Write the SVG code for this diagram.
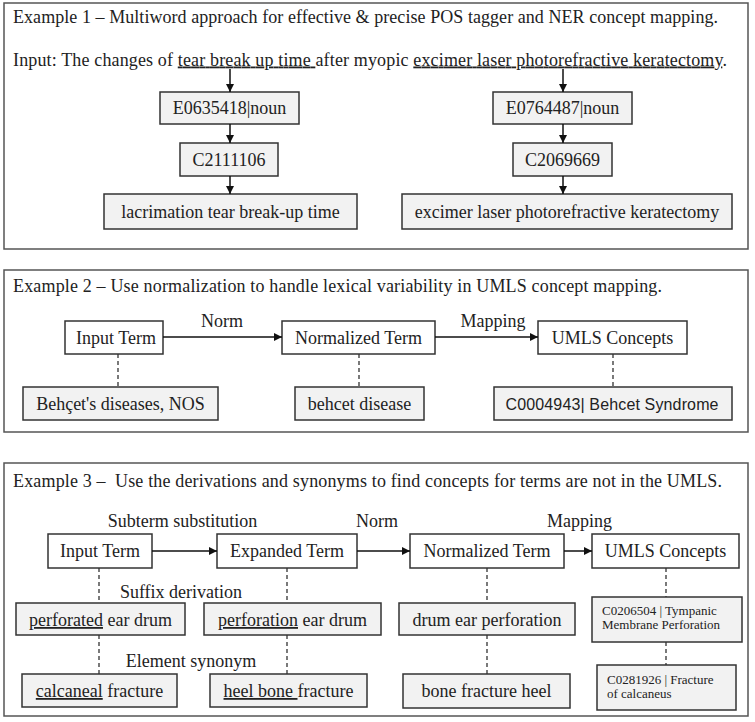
<svg xmlns="http://www.w3.org/2000/svg" width="755" height="722" viewBox="0 0 755 722">
<defs>
<marker id="ah" viewBox="0 0 10 10" refX="10" refY="5" markerWidth="8" markerHeight="8" markerUnits="userSpaceOnUse" orient="auto">
<path d="M0,0 L10,5 L0,10 z" fill="#111"/>
</marker>
<style>
.panel{fill:#fff;stroke:#555;stroke-width:1.5}
.box{fill:#f2f2f2;stroke:#333;stroke-width:1.5}
.wbox{fill:#fff;stroke:#333;stroke-width:1.5}
.t{font-family:"Liberation Serif","Times New Roman",serif;font-size:18px;fill:#222}
.ttl{font-family:"Liberation Serif","Times New Roman",serif;font-size:18px;fill:#222}
.c{text-anchor:middle}
.s{font-family:"Liberation Serif","Times New Roman",serif;font-size:13px;fill:#222}
.sans{font-family:"Liberation Sans",Arial,sans-serif;font-size:16px;fill:#222}
.arr{stroke:#111;stroke-width:1.5;fill:none;marker-end:url(#ah)}
.dash{stroke:#333;stroke-width:1.3;stroke-dasharray:4,3;fill:none}
.u{text-decoration:underline}
</style>
</defs>
<rect width="755" height="722" fill="#fff"/>

<g id="panel1">
<rect class="panel" x="4" y="3" width="744" height="246"/>
<text class="ttl" x="13" y="23" textLength="705" lengthAdjust="spacing">Example 1 – Multiword approach for effective &amp; precise POS tagger and NER concept mapping.</text>
<text class="ttl" x="13" y="65.5" textLength="714" lengthAdjust="spacing" style="white-space:pre">Input: The changes of <tspan class="u">tear break up time </tspan>after myopic <tspan class="u">excimer laser photorefractive keratectomy</tspan>.</text>
</g>
<g id="n_e0635418"><rect class="box" x="160" y="92" width="139" height="32"/><text class="t c" x="229.5" y="114">E0635418|noun</text></g>
<g id="n_c2111106"><rect class="box" x="180" y="143" width="98" height="33"/><text class="t c" x="229" y="166">C2111106</text></g>
<g id="n_lacrimation"><rect class="box" x="104" y="194" width="253" height="35"/><text class="t c" x="230.5" y="218">lacrimation tear break-up time</text></g>
<g id="n_e0764487"><rect class="box" x="493" y="92" width="139" height="32"/><text class="t c" x="562.5" y="114">E0764487|noun</text></g>
<g id="n_c2069669"><rect class="box" x="513" y="143" width="99" height="33"/><text class="t c" x="562.5" y="166">C2069669</text></g>
<g id="n_excimer"><rect class="box" x="402" y="194" width="330" height="35"/><text class="t c" x="567" y="218">excimer laser photorefractive keratectomy</text></g>

<g id="panel2">
<rect class="panel" x="4" y="270" width="744" height="162"/>
<text class="ttl" x="13" y="292" textLength="649" lengthAdjust="spacing">Example 2 – Use normalization to handle lexical variability in UMLS concept mapping.</text>
<text class="t c" x="222" y="327">Norm</text>
<text class="t c" x="493" y="327">Mapping</text>
</g>
<g id="n2_input"><rect class="wbox" x="65" y="321" width="98" height="33"/><text class="t c" x="116" y="344">Input Term</text></g>
<g id="n2_norm"><rect class="wbox" x="282" y="321" width="153" height="33"/><text class="t c" x="358.5" y="344">Normalized Term</text></g>
<g id="n2_umls"><rect class="wbox" x="538" y="321" width="149" height="33"/><text class="t c" x="612.5" y="344">UMLS Concepts</text></g>
<g id="n2_behcet"><rect class="box" x="23" y="387" width="195" height="33"/><text class="t c" x="120.5" y="410">Behçet's diseases, NOS</text></g>
<g id="n2_behcetdisease"><rect class="box" x="295" y="387" width="129" height="33"/><text class="t c" x="359.5" y="410">behcet disease</text></g>
<g id="n2_c0004943"><rect class="box" x="494" y="387" width="238" height="33"/><text class="sans c" x="612" y="409.5" textLength="213" lengthAdjust="spacing">C0004943| Behcet Syndrome</text></g>

<g id="panel3">
<rect class="panel" x="4" y="463" width="744" height="253"/>
<text class="ttl" x="13" y="487" textLength="709" lengthAdjust="spacing" style="white-space:pre">Example 3 –  Use the derivations and synonyms to find concepts for terms are not in the UMLS.</text>
<text class="t c" x="182.5" y="527">Subterm substitution</text>
<text class="t c" x="377" y="527">Norm</text>
<text class="t c" x="579.5" y="527">Mapping</text>
<text class="t c" x="181" y="598">Suffix derivation</text>
<text class="t c" x="191" y="667">Element synonym</text>
</g>
<g id="n3_input"><rect class="wbox" x="48" y="534" width="104" height="34"/><text class="t c" x="100" y="557">Input Term</text></g>
<g id="n3_expanded"><rect class="wbox" x="217" y="534" width="140" height="34"/><text class="t c" x="287" y="557">Expanded Term</text></g>
<g id="n3_norm"><rect class="wbox" x="410" y="534" width="154" height="34"/><text class="t c" x="487" y="557">Normalized Term</text></g>
<g id="n3_umls"><rect class="wbox" x="592" y="534" width="147" height="34"/><text class="t c" x="665.5" y="557">UMLS Concepts</text></g>
<g id="n3_perforated"><rect class="box" x="16" y="603" width="169" height="32"/><text class="t c" x="100.5" y="626"><tspan class="u">perforated</tspan> ear drum</text></g>
<g id="n3_perforation"><rect class="box" x="204" y="603" width="177" height="32"/><text class="t c" x="292.5" y="626"><tspan class="u">perforation</tspan> ear drum</text></g>
<g id="n3_drum"><rect class="box" x="399" y="603" width="176" height="32"/><text class="t c" x="487" y="626">drum ear perforation</text></g>
<g id="n3_c0206504"><rect class="box" x="592" y="597" width="150" height="45"/><text class="s" x="602" y="615">C0206504 | Tympanic</text><text class="s" x="602" y="629">Membrane Perforation</text></g>
<g id="n3_calcaneal"><rect class="box" x="22" y="674" width="155" height="33"/><text class="t c" x="99.5" y="697"><tspan class="u">calcaneal</tspan> fracture</text></g>
<g id="n3_heel"><rect class="box" x="210" y="674" width="157" height="33"/><text class="t c" x="288.5" y="697" style="white-space:pre"><tspan class="u">heel bone </tspan>fracture</text></g>
<g id="n3_bone"><rect class="box" x="403" y="674" width="167" height="34"/><text class="t c" x="486.5" y="697">bone fracture heel</text></g>
<g id="n3_c0281926"><rect class="box" x="597" y="665" width="139" height="45"/><text class="s" x="607" y="684">C0281926 | Fracture</text><text class="s" x="607" y="698">of calcaneus</text></g>

<g id="connectors">
<line class="arr" x1="230" y1="69" x2="230" y2="92"/>
<line class="arr" x1="230" y1="124" x2="230" y2="143"/>
<line class="arr" x1="230" y1="176" x2="230" y2="194"/>
<line class="arr" x1="563" y1="69" x2="563" y2="92"/>
<line class="arr" x1="563" y1="124" x2="563" y2="143"/>
<line class="arr" x1="563" y1="176" x2="563" y2="194"/>
<line class="arr" x1="163" y1="337" x2="282" y2="337"/>
<line class="arr" x1="435" y1="337" x2="538" y2="337"/>
<line class="dash" x1="118" y1="354" x2="118" y2="387"/>
<line class="dash" x1="359" y1="354" x2="359" y2="387"/>
<line class="dash" x1="613" y1="354" x2="613" y2="387"/>
<line class="arr" x1="152" y1="551" x2="217" y2="551"/>
<line class="arr" x1="357" y1="551" x2="410" y2="551"/>
<line class="arr" x1="564" y1="551" x2="592" y2="551"/>
<line class="dash" x1="99" y1="568" x2="99" y2="603"/>
<line class="dash" x1="99" y1="635" x2="99" y2="674"/>
<line class="dash" x1="287" y1="568" x2="287" y2="603"/>
<line class="dash" x1="287" y1="635" x2="287" y2="674"/>
<line class="dash" x1="487" y1="568" x2="487" y2="603"/>
<line class="dash" x1="487" y1="635" x2="487" y2="674"/>
<line class="dash" x1="666" y1="568" x2="666" y2="597"/>
<line class="dash" x1="666" y1="642" x2="666" y2="665"/>
</g>
</svg>
